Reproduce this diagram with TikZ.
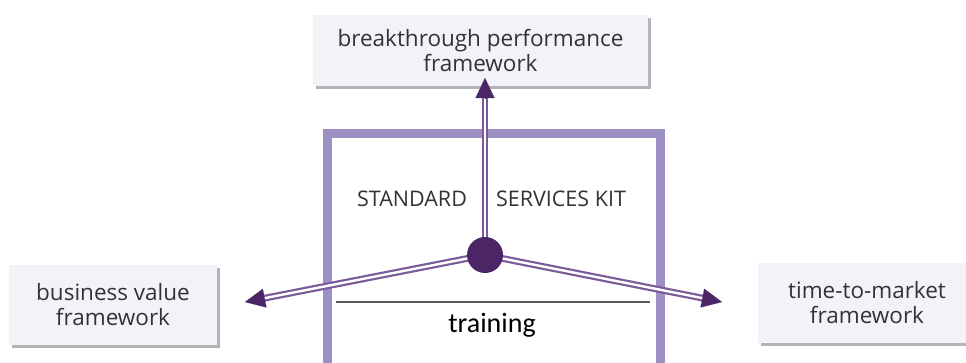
\documentclass[tikz,border=0pt]{standalone}
\usepackage{fontspec}
\setmainfont{Open Sans}
\newfontfamily\trainfont{Carlito}
\usetikzlibrary{arrows.meta,calc}
\definecolor{boxfill}{HTML}{F2F2F8}
\definecolor{boxshadow}{HTML}{B4B4B8}
\definecolor{kitcol}{HTML}{9D90C4}
\definecolor{shaftcol}{HTML}{7B5A9A}
\definecolor{hubcol}{HTML}{4B2566}
\definecolor{txtcol}{HTML}{333333}
\tikzset{
  fwbox/.style={fill=boxfill, draw=none, text=txtcol, align=center,
    font=\fontsize{22.5}{25}\selectfont, inner sep=0pt},
  shaft/.style={draw=shaftcol, line width=2.2pt, double=white, double distance=2.4pt},
  headtip/.style={draw=hubcol, fill=hubcol, line width=0.1pt, -{Triangle[length=20pt,width=19pt]}},
  kittxt/.style={text=txtcol, font=\fontsize{21.5}{24}\selectfont, inner sep=0pt},
}
\begin{document}
\begin{tikzpicture}[x=1pt,y=-1pt]
\useasboundingbox (0,0) rectangle (966,362);
\fill[white] (0,0) rectangle (966,362);
% shadows
\fill[boxshadow] (316,18) rectangle (651,89);
\fill[boxshadow] (12,268) rectangle (220,348);
\fill[boxshadow] (761,266) rectangle (980,346);
% framework boxes
\node[fwbox, minimum width=335pt, minimum height=71pt] (bp) at (480.5,50.5) {breakthrough performance\\framework};
\node[fwbox, minimum width=208pt, minimum height=80pt] (bv) at (113,305) {business value\\framework};
\node[fwbox, minimum width=218pt, minimum height=80pt] (tm) at (867,303) {time-to-market\\framework};
% kit rectangle
\node[draw=kitcol, line width=9pt, minimum width=333pt, minimum height=240pt, inner sep=0pt] (kit) at (493.5,253) {};
\node[kittxt] (std) at (412,199) {STANDARD};
\node[kittxt] (svc) at (561,199) {SERVICES KIT};
% training divider
\coordinate (dl) at (336,302);
\coordinate (dr) at (650,302);
\draw[draw=black!65, line width=1.4pt] (dl) -- (dr);
\node[font=\trainfont\fontsize{28}{32}\selectfont, text=black, inner sep=0pt] (tr) at (492,325) {training};
% hub and connectors
\coordinate (hc) at (485,255);
\coordinate (tipT) at (485,78);
\coordinate (tipL) at (245,302);
\coordinate (tipR) at (722,302);
\draw[shaft] (hc) -- ($(tipT)!18pt!(hc)$);
\draw[shaft] (hc) -- ($(tipL)!18pt!(hc)$);
\draw[shaft] (hc) -- ($(tipR)!18pt!(hc)$);
\draw[headtip] ($(tipT)!20pt!(hc)$) -- (tipT);
\draw[headtip] ($(tipL)!20pt!(hc)$) -- (tipL);
\draw[headtip] ($(tipR)!20pt!(hc)$) -- (tipR);
\node[circle, fill=hubcol, minimum size=36pt, inner sep=0pt] (hub) at (hc) {};
\end{tikzpicture}
\end{document}
